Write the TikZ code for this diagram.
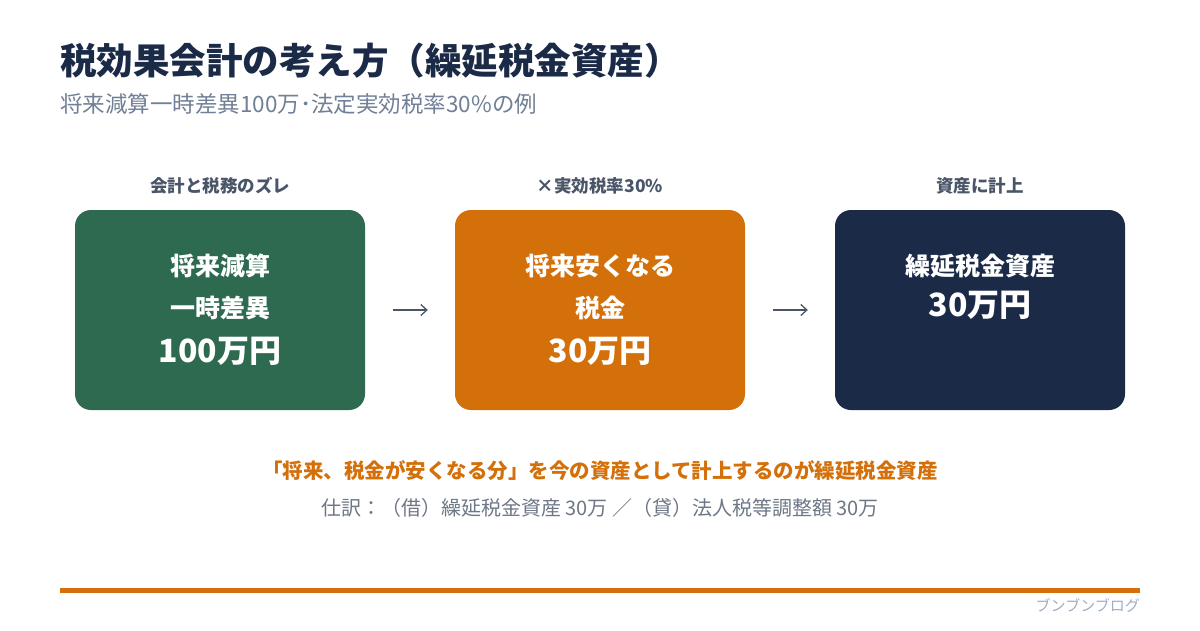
\documentclass[tikz,border=0pt]{standalone}
\usepackage{fontspec}
\setmainfont{Noto Sans CJK JP}
\usetikzlibrary{arrows.meta, positioning, calc}
\definecolor{titlenavy}{HTML}{1B2A47}
\definecolor{subgray}{HTML}{718096}
\definecolor{labelgray}{HTML}{4A5568}
\definecolor{cardgreen}{HTML}{2D6A4F}
\definecolor{cardorange}{HTML}{D4700A}
\definecolor{cardnavy}{HTML}{1B2A47}
\definecolor{footgray}{HTML}{A0AEC0}
\newcommand{\fsz}[1]{\fontsize{#1}{#1}\selectfont}

\tikzset{
  stepcard/.style={fill=#1, rounded corners=16pt, minimum width=290pt, minimum height=200pt, inner sep=0pt},
  cardtext/.style={text=white, font=\bfseries\fsz{25}, inner sep=0pt},
  cardbig/.style={text=white, font=\bfseries\fsz{32}, inner sep=0pt},
  steplabel/.style={text=labelgray, font=\bfseries\fsz{17.5}, inner sep=0pt},
  flowarrow/.style={draw=labelgray, line width=1.3pt, -{Straight Barb[length=6pt,width=11pt]}, shorten <=28pt, shorten >=27pt},
}

\begin{document}
\begin{tikzpicture}[x=1pt, y=-1pt]
    \useasboundingbox[fill=white] (0,0) rectangle (1200,630);

    % title
    \node[anchor=west, inner sep=0pt, text=titlenavy, font=\bfseries\fsz{36.5}] (title) at (60,61) {税効果会計の考え方（繰延税金資産）};
    \node[anchor=west, inner sep=0pt, text=subgray, font=\fsz{22.5}] (subtitle) at (60,104) {将来減算一時差異100万･法定実効税率30\%の例};

    % three cards
    \node[stepcard=cardgreen] (green) at (220,310) {};
    \node[stepcard=cardorange] (orange) at (600,310) {};
    \node[stepcard=cardnavy] (navy) at (980,310) {};

    \node[steplabel, above=15pt of green] (greenlbl) {会計と税務のズレ};
    \node[steplabel, above=15pt of orange] (orangelbl) {×実効税率30\%};
    \node[steplabel, above=15pt of navy] (navylbl) {資産に計上};

    \node[cardtext] (greenA) at ([yshift=44pt]green.center) {将来減算};
    \node[cardtext] (greenB) at ([yshift=2pt]green.center) {一時差異};
    \node[cardbig] (greenC) at ([yshift=-41pt]green.center) {100万円};

    \node[cardtext] (orangeA) at ([yshift=44pt]orange.center) {将来安くなる};
    \node[cardtext] (orangeB) at ([yshift=2pt]orange.center) {税金};
    \node[cardbig] (orangeC) at ([yshift=-41pt]orange.center) {30万円};

    \node[cardtext] (navyA) at ([yshift=44pt]navy.center) {繰延税金資産};
    \node[cardbig] (navyB) at ([yshift=5pt]navy.center) {30万円};

    \draw[flowarrow] (green) -- (orange);
    \draw[flowarrow] (orange) -- (navy);

    % summary
    \node[inner sep=0pt, text=cardorange, font=\bfseries\fsz{20.5}] (keypoint) at (600,471) {「将来、税金が安くなる分」を今の資産として計上するのが繰延税金資産};
    \node[inner sep=0pt, text=labelgray!80, font=\fsz{20}] (entry) at (600,508) {仕訳：（借）繰延税金資産 30万 ／（貸）法人税等調整額 30万};

    % footer
    \draw[cardorange, line width=5pt] (60,590) -- (1140,590);
    \node[anchor=east, inner sep=0pt, text=footgray, font=\fsz{15}] (blogname) at (1140,606) {ブンブンブログ};
\end{tikzpicture}
\end{document}
